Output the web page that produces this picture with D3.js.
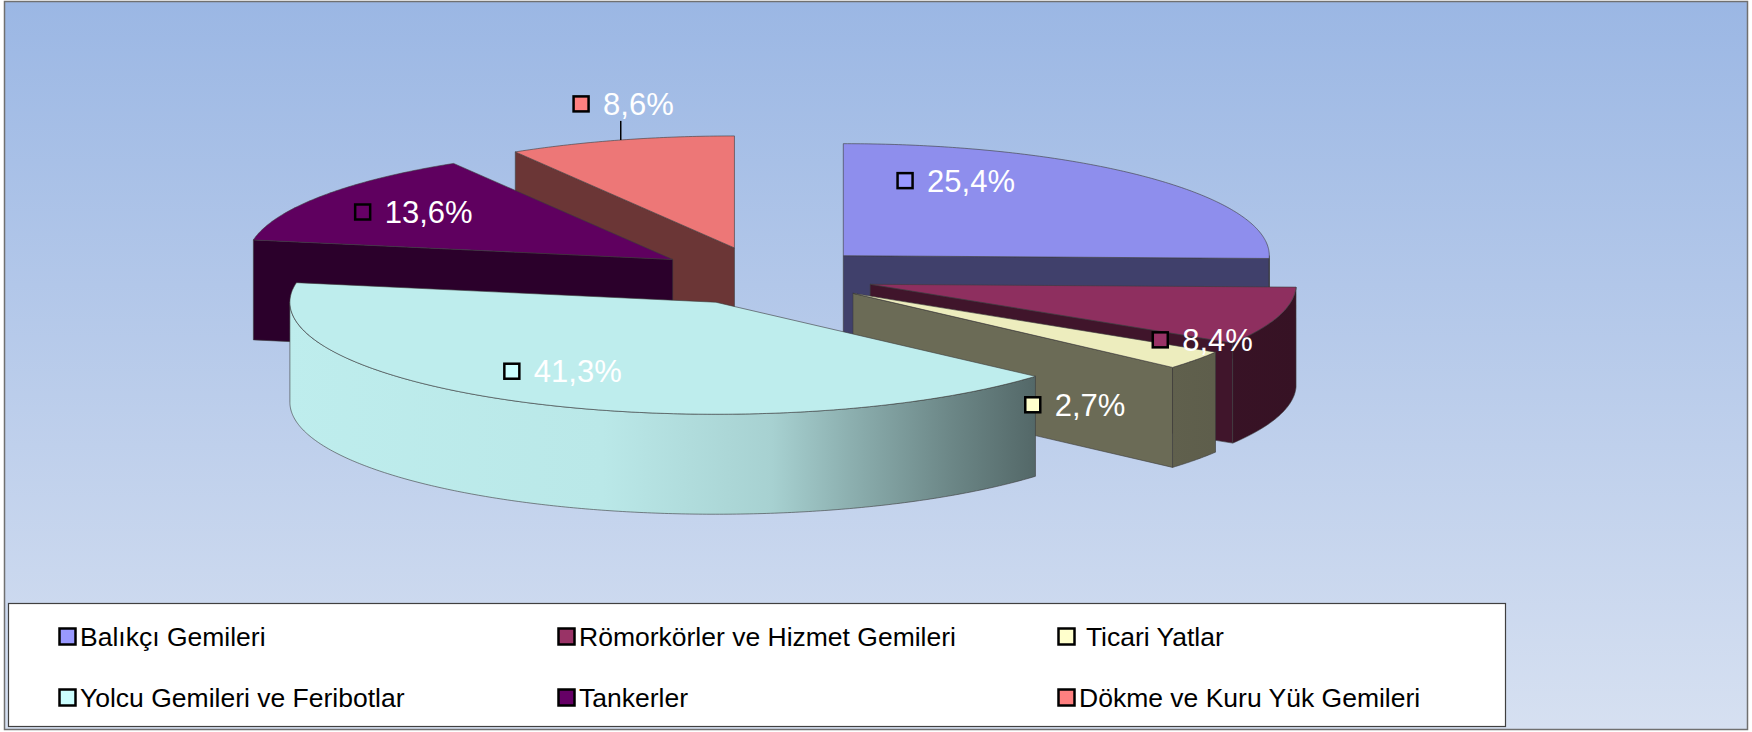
<!DOCTYPE html>
<html lang="tr">

<head>
  <meta charset="utf-8">
  <title> Gemi Tipleri </title>
  <script src="https://d3js.org/d3.v7.min.js"> </script>
  <style>
    body {
      margin: 0;
      background: #ffffff;
      font-family: "Liberation Sans", Arial, sans-serif;
    }
  </style>
</head>

<body>
  <script>
    // Data
    var categories = ["Balıkçı Gemileri", "Römorkörler ve Hizmet Gemileri", " Ticari Yatlar",
      "Yolcu Gemileri ve Feribotlar", "Tankerler", "Dökme ve Kuru Yük Gemileri"];
    var shares = [25.4, 8.4, 2.7, 41.3, 13.6, 8.6];
    var colors = ["#9999FF", "#993366", "#FFFFCC", "#CCFFFF", "#660066", "#FF8080"];

    // Layout
    var W = 1752, H = 732;
    var cx = 764, cy = 276;      // pie centre before explosion
    var rx = 426, ry = 112;      // ellipse radii of the top face
    var depth = 100;             // thickness of the pie
    var explode = 0.26;          // explosion as a fraction of the radius
    // label anchor (key square centre) relative to each slice centre, in radii
    var labelPos = [[0.145, -0.67], [0.681, 0.496], [0.422, 0.995],
      [-0.479, 0.616], [-0.728, -0.424], [-0.36, -1.286]];

    var tr = d3.formatLocale({ decimal: ",", thousands: ".", grouping: [3], currency: ["", " TL"] });
    var fmt = tr.format(".1f");

    var svg = d3.select("body")
      .append("svg")
      .attr("width", W)
      .attr("height", H);

    var defs = svg.append("defs");

    // chart area background
    var bg = defs.append("linearGradient")
      .attr("id", "bg")
      .attr("x1", 0).attr("y1", 0).attr("x2", 0).attr("y2", 1);
    bg.append("stop").attr("offset", 0).attr("stop-color", "#9bb7e4");
    bg.append("stop").attr("offset", 1).attr("stop-color", "#d6e0f1");

    svg.append("rect")
      .attr("x", 4.5).attr("y", 1.5)
      .attr("width", 1743).attr("height", 728)
      .attr("fill", "url(#bg)")
      .attr("stroke", "#707070")
      .attr("stroke-width", 1.5);

    function shade(c, k) {
      var r = d3.rgb(c);
      return d3.rgb(r.r * k, r.g * k, r.b * k).formatHex();
    }

    var pie = d3.pie().sort(null).value(function(d) { return d; });
    var arcs = pie(shares);

    var slices = arcs.map(function(a, i) {
      var mid = (a.startAngle + a.endAngle) / 2;
      return {
        i: i,
        a0: a.startAngle,
        a1: a.endAngle,
        mid: mid,
        ox: explode * rx * Math.sin(mid),
        oy: -explode * ry * Math.cos(mid)
      };
    });

    function pt(s, a, z) {
      return [cx + s.ox + rx * Math.sin(a), cy + s.oy - ry * Math.cos(a) + (z || 0)];
    }

    function apex(s, z) {
      return [cx + s.ox, cy + s.oy + (z || 0)];
    }

    function rim(s, from, to, z) {
      var n = Math.max(2, Math.ceil((to - from) / 0.01));
      return d3.range(n + 1).map(function(k) {
        return pt(s, from + (to - from) * k / n, z);
      });
    }

    var line = d3.line().curve(d3.curveLinearClosed);

    // horizontal lighting of the curved walls
    var gx1 = cx - rx - 60, gx2 = cx + rx + 110;
    var light = [[0, 1.0], [0.318, 0.98], [0.483, 0.88], [0.561, 0.74],
      [0.658, 0.57], [0.746, 0.43], [1, 0.38]];

    colors.forEach(function(c, i) {
      var g = defs.append("linearGradient")
        .attr("id", "wall" + i)
        .attr("gradientUnits", "userSpaceOnUse")
        .attr("x1", gx1).attr("y1", 0).attr("x2", gx2).attr("y2", 0);
      light.forEach(function(l) {
        g.append("stop").attr("offset", l[0]).attr("stop-color", shade(c, 0.93 * l[1]));
      });
    });

    var edge = "#3c3c3c";
    var pieG = svg.append("g");

    // draw back slices first
    var order = slices.slice().sort(function(a, b) { return a.oy - b.oy; });

    order.forEach(function(s) {
      var g = pieG.append("g");
      var c = colors[s.i];
      var side = shade(c, 0.42);

      // cut face at the start angle
      if (Math.sin(s.a0) < -1e-6) {
        g.append("path")
          .attr("d", line([apex(s), pt(s, s.a0), pt(s, s.a0, depth), apex(s, depth)]))
          .attr("fill", side)
          .attr("stroke", edge).attr("stroke-opacity", 0.6).attr("stroke-width", 1);
      }
      // cut face at the end angle
      if (Math.sin(s.a1) > 1e-6) {
        g.append("path")
          .attr("d", line([apex(s), pt(s, s.a1), pt(s, s.a1, depth), apex(s, depth)]))
          .attr("fill", side)
          .attr("stroke", edge).attr("stroke-opacity", 0.6).attr("stroke-width", 1);
      }
      // outer wall, front half only
      var w0 = Math.max(s.a0, Math.PI / 2), w1 = Math.min(s.a1, 3 * Math.PI / 2);
      if (w1 > w0) {
        var pts = rim(s, w0, w1, 0).concat(rim(s, w0, w1, depth).reverse());
        g.append("path")
          .attr("d", line(pts))
          .attr("fill", "url(#wall" + s.i + ")")
          .attr("stroke", edge).attr("stroke-opacity", 0.6).attr("stroke-width", 1);
      }
      // top face
      g.append("path")
        .attr("d", line([apex(s)].concat(rim(s, s.a0, s.a1, 0))))
        .attr("fill", shade(c, 0.93))
        .attr("stroke", edge).attr("stroke-opacity", 0.6).attr("stroke-width", 1);
    });

    // data labels
    var labG = svg.append("g");
    slices.forEach(function(s) {
      var p = labelPos[s.i];
      var lx = cx + s.ox + p[0] * rx;
      var ly = cy + s.oy + p[1] * ry;

      // leader line for labels set outside the pie
      if (Math.abs(p[1]) > 1) {
        var r0 = pt(s, s.mid);
        labG.append("line")
          .attr("x1", r0[0]).attr("y1", r0[1])
          .attr("x2", r0[0]).attr("y2", ly + 17)
          .attr("stroke", "#000").attr("stroke-width", 1.5);
      }

      labG.append("rect")
        .attr("x", lx - 7.5).attr("y", ly - 7.5)
        .attr("width", 15).attr("height", 15)
        .attr("fill", colors[s.i])
        .attr("stroke", "#000")
        .attr("stroke-width", 2.5);

      labG.append("text")
        .attr("x", lx + 22)
        .attr("y", ly + 11)
        .attr("fill", "#ffffff")
        .style("font-size", "31px")
        .text(fmt(shares[s.i]) + "%");
    });

    // legend
    var legX = [58, 557, 1057];
    var legY = [646, 707];

    svg.append("rect")
      .attr("x", 8.5).attr("y", 603.5)
      .attr("width", 1497).attr("height", 123)
      .attr("fill", "#ffffff")
      .attr("stroke", "#404040")
      .attr("stroke-width", 1.2);

    var leg = svg.append("g")
      .selectAll("g")
      .data(categories)
      .enter().append("g")
      .attr("transform", function(d, i) {
        return "translate(" + legX[i % 3] + "," + legY[Math.floor(i / 3)] + ")";
      });

    leg.append("rect")
      .attr("x", 1.5).attr("y", -17.5)
      .attr("width", 16).attr("height", 16)
      .attr("fill", function(d, i) { return colors[i]; })
      .attr("stroke", "#000")
      .attr("stroke-width", 2.5);

    leg.append("text")
      .attr("x", 22)
      .attr("y", 0)
      .style("font-size", "26.5px")
      .style("white-space", "pre")
      .attr("fill", "#000")
      .text(function(d) { return d; });
  </script>
</body>

</html>
